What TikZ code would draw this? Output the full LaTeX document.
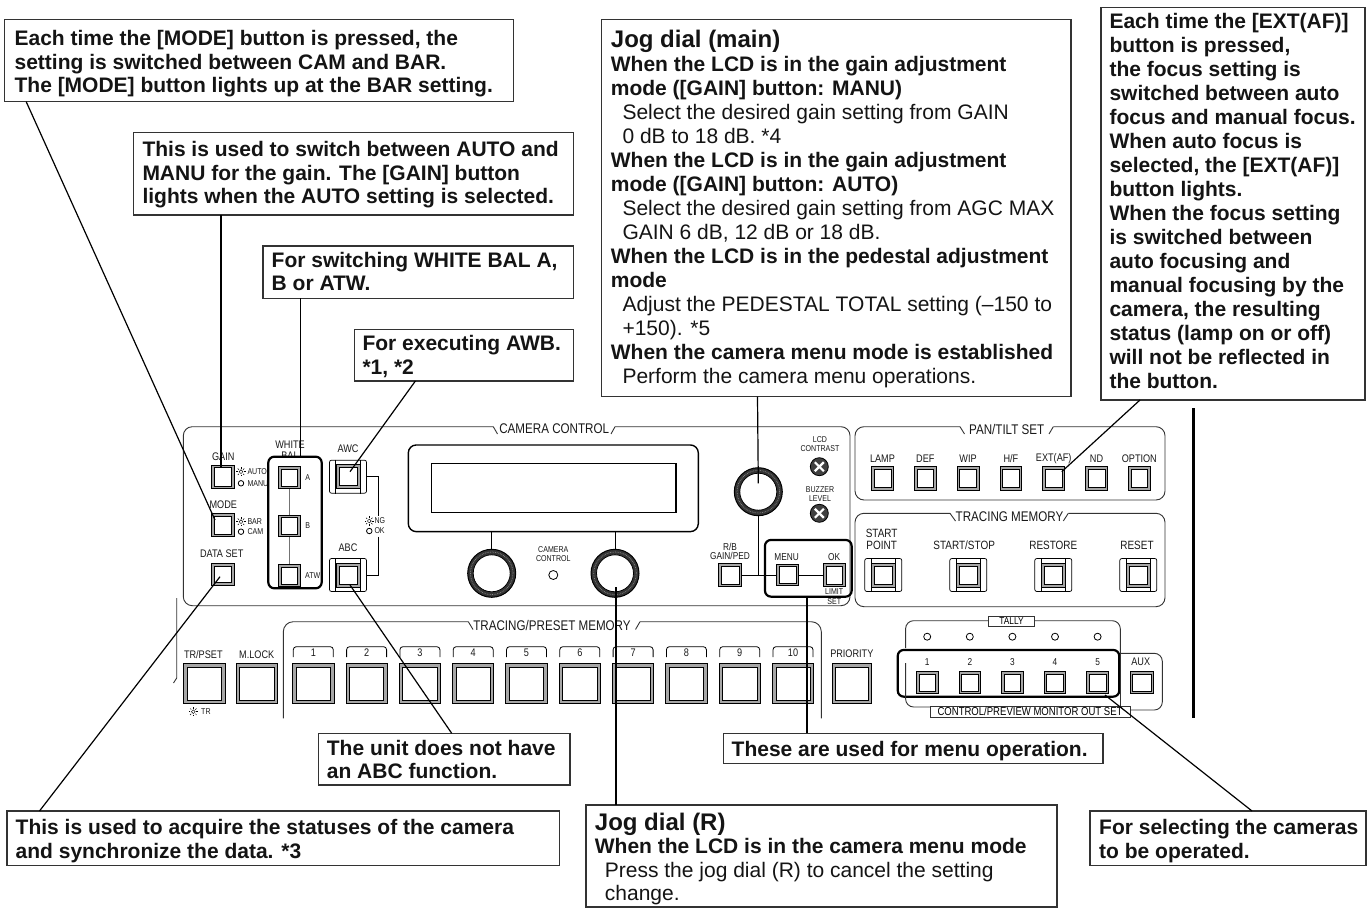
\documentclass[tikz,border=0pt]{standalone}
\usepackage{fontspec}
\setmainfont{Liberation Sans}
\newfontfamily\panelf[FakeStretch=0.83]{Liberation Sans}
\newcommand\mystrut{\rule{0pt}{16pt}}
\newcommand\tstrut{\rule{0pt}{18pt}}
\tikzset{
  cbox/.style={draw=black!80, line width=1.3pt},
  ctext/.style={anchor=north west, inner sep=0pt, align=left, text=black!92,
     font={\fontsize{21}{23.5}\selectfont\bfseries}},
  leader/.style={draw=black, line width=1.2pt},
  panel/.style={draw=black!80, line width=0.9pt},
  grp/.style={draw=black, line width=2.2pt, rounded corners=6pt, inner sep=0pt},
  btnout/.style={draw=black, line width=0.9pt, fill=black!35, rectangle, inner sep=0pt},
  btnin/.style={draw=black, line width=0.6pt, fill=white, rectangle, inner sep=0pt},
  frm/.style={draw=black, line width=0.7pt, fill=white, rectangle, rounded corners=2pt, inner sep=0pt},
  lbl/.style={inner sep=0pt, text=black!90, font={\panelf\fontsize{11}{11}\selectfont}},
  mlbl/.style={inner sep=0pt, text=black!90, font={\panelf\fontsize{10}{10}\selectfont}},
  tlbl/.style={inner sep=0pt, text=black!90, font={\panelf\fontsize{12}{12}\selectfont}},
  slbl/.style={inner sep=0pt, text=black!90, font={\panelf\fontsize{8.5}{8.5}\selectfont}},
  ttl/.style={inner sep=0pt, text=black!90, font={\panelf\fontsize{14}{14}\selectfont}},
  led/.style={draw=black, line width=0.8pt, fill=white, circle, inner sep=0pt, minimum size=7pt},
  sun/.pic={\draw[line width=0.45pt] (0,0) circle[radius=1.9];
    \foreach \a in {0,45,...,315}{\draw[line width=0.45pt] (\a:2.9) -- (\a:4.6);}},
}
% button: [inset]{name}{x}{y}{w}{h}
\newcommand\btn[6][2.5]{%
  \node[btnout, minimum width=#5pt, minimum height=#6pt] (#2) at (#3,#4) {};
  \node[btnin, minimum width={(#5-2*#1)*1pt}, minimum height={(#6-2*#1)*1pt}] (#2i) at (#3,#4) {};}
% pressed button with side bars
\newcommand\pbtn[3]{%
  \node[frm, minimum width=37pt, minimum height=33pt] (#1f) at (#2,#3) {};
  \draw[line width=0.6pt] ([xshift=6.5pt]#1f.north west) -- ([xshift=6.5pt]#1f.south west);
  \draw[line width=0.6pt] ([xshift=-6.5pt]#1f.north east) -- ([xshift=-6.5pt]#1f.south east);
  \btn[3]{#1}{#2}{#3}{24}{24}}
% dial
\newcommand\dial[3]{%
  \node[circle, fill=black!80, minimum size=48pt, inner sep=0pt] (#1) at (#2,#3) {};
  \fill[white] (#2,#3) circle[radius=18.5];
  \draw[white!55!black, line width=0.7pt, dash pattern=on 0.7pt off 1pt] (#2,#3) circle[radius=21.3];
  \draw[line width=1pt] (#2,#3) circle[radius=24];
  \draw[line width=0.8pt] (#2,#3) circle[radius=18.5];}
% knob
\newcommand\knob[3]{%
  \node[circle, fill=black!75, draw=black, line width=0.8pt, minimum size=18pt, inner sep=0pt] (#1) at (#2,#3) {};
  \draw[white, line width=2.2pt] (#2-4.5,#3-4.5) -- (#2+4.5,#3+4.5) (#2-4.5,#3+4.5) -- (#2+4.5,#3-4.5);}

\begin{document}
\begin{tikzpicture}[x=1pt,y=-1pt]
\useasboundingbox (0,0) rectangle (1371,909);
\fill[white] (0,0) rectangle (1371,909);

%================ PANEL =================
% CAMERA CONTROL panel
\draw[panel, rounded corners=9pt] (493.3,426.7) -- (183.3,426.7) -- (183.3,605.7) -- (850,605.7) -- (850,426.7) -- (615,426.7);
\draw[panel] (493.3,426.7) -- (497.5,434) (611,434) -- (615,426.7);
\node[ttl] (ttlCC) at (554.2,428.5) {CAMERA CONTROL};
\draw[panel] (176.7,598) -- (176.7,678) -- (173.5,683);

% GAIN / MODE / DATA SET
\node[lbl] (lGain) at (223.3,456.5) {GAIN};
\btn{bGain}{222.9}{476.7}{22.5}{23.3}
\pic at (241,471.7) {sun};
\node[slbl, anchor=west] (lAuto) at (247.3,471.7) {AUTO};
\node[led, minimum size=5.5pt] (ledManu) at (241,483.3) {};
\node[slbl, anchor=west] (lManu) at (247.3,483.3) {MANU};
\node[lbl] (lMode) at (223.3,505) {MODE};
\btn{bMode}{222.9}{525}{22.5}{23.3}
\pic at (241,521.7) {sun};
\node[slbl, anchor=west] (lBar) at (247.3,521.7) {BAR};
\node[led, minimum size=5.5pt] (ledCam) at (241,531.7) {};
\node[slbl, anchor=west] (lCamS) at (247.3,531.7) {CAM};
\node[lbl] (lData) at (221.7,553.3) {DATA SET};
\btn{bData}{222.9}{574.2}{22.5}{21.7}

% WHITE BAL
\node[lbl] (lWhite) at (290,444.3) {WHITE};
\node[lbl] (lBal) at (290,455.8) {BAL};
\node[grp, fill=white, minimum width=53.4pt, minimum height=131.6pt] (wbGrp) at (295,522.5) {};
\btn{wbA}{289.2}{477.5}{21.7}{21.7}
\btn{wbB}{289.2}{525.8}{21.7}{21.7}
\btn{wbC}{289.2}{575.5}{21.7}{22.3}
\draw[black!55, line width=0.9pt] (wbA.south) -- (wbB.north) (wbB.south) -- (wbC.north);
\node[slbl] (lA) at (307.7,477.5) {A};
\node[slbl] (lB) at (307.7,525.8) {B};
\begin{scope}
\clip (268,456) rectangle (320.5,590);
\node[slbl, anchor=west] (lAtw) at (305,575.5) {ATW};
\end{scope}

% AWC / ABC
\node[lbl] (lAwc) at (348,448.3) {AWC};
\pbtn{awc}{348}{476.7}
\node[lbl] (lAbc) at (348,547.7) {ABC};
\pbtn{abc}{348}{575}
\draw[line width=0.8pt] (awcf.east) -- (378.3,476.7) -- (378.3,515.5);
\draw[line width=0.8pt] (378.3,536.5) -- (378.3,575) -- (abcf.east);
\pic at (369.3,521) {sun};
\node[slbl, anchor=west] (lNg) at (374.3,521) {NG};
\node[led, minimum size=5.5pt] (ledOk) at (369.3,531) {};
\node[slbl, anchor=west] (lOkS) at (374.3,531) {OK};

% LCD and dials
\node[draw, line width=1.4pt, rounded corners=8pt, minimum width=290pt, minimum height=86.7pt, inner sep=0pt] (lcd) at (553.3,488.3) {};
\node[draw, line width=1.2pt, minimum width=244.3pt, minimum height=49pt, inner sep=0pt] (screen) at (553.8,487.8) {};
\dial{dialL}{491.7}{573.3}
\dial{dialR}{615}{573.3}
\draw[line width=0.8pt] (lcd.south -| dialL.north) -- (dialL.north);
\draw[line width=0.8pt] (lcd.south -| dialR.north) -- (dialR.north);
\node[slbl] (lCc1) at (553.3,550) {CAMERA};
\node[slbl] (lCc2) at (553.3,559) {CONTROL};
\node[led, minimum size=9pt] (ledCC) at (553.3,575) {};

% jog dial, knobs
\dial{jog}{758.3}{491.7}
\node[slbl] (lLcd1) at (820,440) {LCD};
\node[slbl] (lLcd2) at (820,449) {CONTRAST};
\knob{kLcd}{819.3}{466.7}
\node[slbl] (lBuz1) at (820,490) {BUZZER};
\node[slbl] (lBuz2) at (820,498.5) {LEVEL};
\knob{kBuz}{819.3}{513.3}

% R/B, MENU, OK
\node[grp, minimum width=86.7pt, minimum height=56.7pt] (menuGrp) at (808.3,568.3) {};
\draw[line width=0.8pt] (jog.south) -- (758.3,575);
\node[mlbl] (lRb1) at (730,547) {R/B};
\node[mlbl] (lRb2) at (730,555.5) {GAIN/PED};
\btn{bRb}{730}{575}{23.3}{23.3}
\node[mlbl] (lMenu) at (786.7,556.7) {MENU};
\btn{bMenu}{787.5}{575}{21.7}{21.7}
\node[mlbl] (lOk) at (834.2,556.7) {OK};
\btn{bOk}{834.2}{575}{21.7}{23.3}
\draw[line width=0.8pt] (bRb.east) -- (bMenu.west);
\draw[line width=0.8pt] (bMenu.east) -- (bOk.west);
\node[slbl] (lLimit) at (834.2,591.3) {LIMIT};
\node[slbl, fill=white, inner sep=0.5pt] (lSet) at (834.2,601.5) {SET};

% PAN/TILT SET
\draw[panel, rounded corners=9pt] (960,426.7) -- (855,426.7) -- (855,500) -- (1165,500) -- (1165,426.7) -- (1053.3,426.7);
\draw[panel] (960,426.7) -- (964.5,434) (1049,434) -- (1053.3,426.7);
\node[ttl] (ttlPT) at (1006.7,429) {PAN/TILT SET};
\foreach \n [count=\i from 0] in {LAMP,DEF,WIP,H/F,EXT(AF),ND,OPTION}{
  \node[lbl] (lpt\i) at (882.5+42.8*\i,458.3) {\n};
  \btn{pt\i}{882.5+42.8*\i}{478.3}{21.7}{23.3}
}

% TRACING MEMORY
\draw[panel, rounded corners=9pt] (950,513.3) -- (855,513.3) -- (855,606.7) -- (1165,606.7) -- (1165,513.3) -- (1068.3,513.3);
\draw[panel] (950,513.3) -- (955.5,521) (1063.3,521) -- (1068.3,513.3);
\node[ttl] (ttlTM) at (1009.5,517) {TRACING MEMORY};
\node[tlbl] (lSp1) at (881.7,533.3) {START};
\node[tlbl] (lSp2) at (881.7,545.5) {POINT};
\node[tlbl] (lSs) at (964.2,545.5) {START/STOP};
\node[tlbl] (lRs) at (1053.3,545.5) {RESTORE};
\node[tlbl] (lRt) at (1137,545.5) {RESET};
\pbtn{tm0}{883.3}{575}
\pbtn{tm1}{968.3}{575}
\pbtn{tm2}{1053.3}{575}
\pbtn{tm3}{1138.3}{575}

% TRACING/PRESET MEMORY
\draw[panel, rounded corners=10pt] (468.3,621.7) -- (283.3,621.7) -- (283.3,718.3);
\draw[panel, rounded corners=10pt] (640,621.7) -- (821.3,621.7) -- (821.3,718.3);
\draw[panel] (468.3,621.7) -- (473,629.5) (635.5,629.5) -- (640,621.7);
\node[ttl] (ttlTP) at (552,625.8) {TRACING/PRESET MEMORY};
\node[lbl] (lTr) at (203.3,655) {TR/PSET};
\btn[3.5]{bTr}{204.2}{683.3}{41.7}{40}
\pic at (193.3,711.7) {sun};
\node[slbl, anchor=west] (lTr2) at (201,711.7) {TR};
\node[lbl] (lMl) at (256.7,655) {M.LOCK};
\btn[3.5]{bMl}{256.7}{683.3}{41.3}{40}
\foreach \i in {1,...,10}{
  \pgfmathsetmacro\cx{313.3+53.3*(\i-1)}
  \draw[line width=0.8pt, rounded corners=3pt] (\cx-20,657) -- (\cx-20,646.7) -- (\cx+20,646.7) -- (\cx+20,657);
  \node[lbl] (ln\i) at (\cx,652.5) {\i};
  \btn[3.5]{nb\i}{\cx}{683.3}{41.3}{40}
}
\node[lbl] (lPri) at (851.8,653.3) {PRIORITY};
\btn[3.5]{bPri}{851.7}{683.3}{39.5}{40}

% TALLY / camera select
\draw[panel, rounded corners=8pt] (905.6,648) -- (905.6,620.7) -- (988.2,620.7);
\draw[panel, rounded corners=8pt] (1034.8,620.7) -- (1120.3,620.7) -- (1120.3,653.3);
\node[draw=black!80, line width=0.8pt, fill=white, minimum width=46.6pt, minimum height=10.5pt, inner sep=0pt, font={\panelf\fontsize{10}{10}\selectfont}] (lTally) at (1011.5,621.3) {TALLY};
\node[grp, minimum width=221.5pt, minimum height=46.7pt] (camGrp) at (1008.5,673.3) {};
\foreach \i in {0,...,4}{
  \pgfmathsetmacro\cx{927.2+42.6*\i}
  \pgfmathtruncatemacro\nn{\i+1}
  \node[led] (tl\i) at (\cx,636.7) {};
  \node[mlbl] (lc\i) at (\cx,661.7) {\nn};
  \btn{cb\i}{\cx}{682.5}{21.5}{21.7}
}
\draw[panel, rounded corners=8pt] (905.6,663) -- (905.6,707) -- (930,707);
\draw[panel, rounded corners=8pt] (1120.3,653.3) -- (1162.3,653.3) -- (1162.3,710) -- (1130,710);
\draw[panel] (1120.3,653.3) -- (1120.3,706);
\node[draw=black!80, line width=0.8pt, fill=white, minimum width=200pt, minimum height=11.3pt, inner sep=0pt, font={\panelf\fontsize{11.5}{11.5}\selectfont}] (lCpm) at (1030,711.7) {CONTROL/PREVIEW MONITOR OUT SET};
\node[lbl] (lAux) at (1140.7,661.7) {AUX};
\btn{bAux}{1141.7}{682.5}{23.3}{21.7}

% right vertical rule
\draw[line width=2.6pt] (1193.3,408) -- (1193.3,718);

%================ CALLOUTS =================
\draw[cbox] (4.3,19.3) rectangle (513.3,101.7);
\node[ctext] (tMode) at (14.4,29.5) {\mystrut Each time the [MODE] button is pressed, the\\setting is switched between CAM and BAR.\\The [MODE] button lights up at the BAR setting.};

\draw[cbox] (133.8,132.7) rectangle (573.8,215);
\node[ctext] (tGain) at (142.3,140.5) {\mystrut This is used to switch between AUTO and\\MANU for the gain. The [GAIN] button\\lights when the AUTO setting is selected.};

\draw[cbox] (263,246) rectangle (573.8,298.3);
\node[ctext] (tWb) at (271.5,251) {\mystrut For switching WHITE BAL A,\\B or ATW.};

\draw[cbox] (354.2,329.3) rectangle (573.8,381);
\node[ctext] (tAwb) at (362.3,334.5) {\mystrut For executing AWB.\\*1, *2};

\draw[cbox] (601.7,19.3) rectangle (1071,396.7);
\node[ctext, font={\fontsize{21}{24}\selectfont\bfseries}] (tJog) at (610.7,29.7) {%
{\fontsize{24}{24}\selectfont\tstrut Jog dial (main)}\\
When the LCD is in the gain adjustment\\
mode ([GAIN] button: MANU)\\
\hspace*{11.6pt}{\mdseries Select the desired gain setting from GAIN}\\
\hspace*{11.6pt}{\mdseries 0 dB to 18 dB. *4}\\
When the LCD is in the gain adjustment\\
mode ([GAIN] button: AUTO)\\
\hspace*{11.6pt}{\mdseries Select the desired gain setting from AGC MAX}\\
\hspace*{11.6pt}{\mdseries GAIN 6 dB, 12 dB or 18 dB.}\\
When the LCD is in the pedestal adjustment\\
mode\\
\hspace*{11.6pt}{\mdseries Adjust the PEDESTAL TOTAL setting (–150 to}\\
\hspace*{11.6pt}{\mdseries +150). *5}\\
When the camera menu mode is established\\
\hspace*{11.6pt}{\mdseries Perform the camera menu operations.}};

\draw[cbox] (1101,7.3) rectangle (1365,400);
\node[ctext, font={\fontsize{21}{24}\selectfont\bfseries}] (tExt) at (1109.3,12.3) {\mystrut Each time the [EXT(AF)]\\button is pressed,\\the focus setting is\\switched between auto\\focus and manual focus.\\When auto focus is\\selected, the [EXT(AF)]\\button lights.\\When the focus setting\\is switched between\\auto focusing and\\manual focusing by the\\camera, the resulting\\status (lamp on or off)\\will not be reflected in\\the button.};

\draw[cbox] (318.3,733.3) rectangle (570,785);
\node[ctext, font={\fontsize{21}{23}\selectfont\bfseries}] (tAbc) at (326.7,739.5) {\mystrut The unit does not have\\an ABC function.};

\draw[cbox] (723.3,733.3) rectangle (1103,763.3);
\node[ctext] (tMenu) at (731.5,740) {\mystrut These are used for menu operation.};

\draw[cbox] (7,811) rectangle (559.6,865.5);
\node[ctext] (tData) at (15.5,818.5) {\mystrut This is used to acquire the statuses of the camera\\and synchronize the data. *3};

\draw[cbox] (586,805) rectangle (1057,907);
\node[ctext, font={\fontsize{21}{23.5}\selectfont\bfseries}] (tJogR) at (594.7,812) {%
{\fontsize{24}{24}\selectfont\tstrut Jog dial (R)}\\
When the LCD is in the camera menu mode\\
\hspace*{10pt}{\mdseries Press the jog dial (R) to cancel the setting}\\
\hspace*{10pt}{\mdseries change.}};

\draw[cbox] (1090,811) rectangle (1366,865.5);
\node[ctext] (tCamSel) at (1099,818.5) {\mystrut For selecting the cameras\\to be operated.};

%================ LEADERS =================
\coordinate (mode-a) at (26.2,101.7);  \coordinate (mode-b) at (215,520);
\coordinate (gain-a) at (221,215);     \coordinate (gain-b) at (221,468);
\coordinate (wb-a) at (300.5,298.3);   \coordinate (wb-b) at (300.5,456.7);
\coordinate (awb-a) at (415.4,381);    \coordinate (awb-b) at (350,471.7);
\coordinate (jog-a) at (757.5,396.7);  \coordinate (jog-b) at (758.3,483.3);
\coordinate (ext-a) at (1140,400);     \coordinate (ext-b) at (1061.7,471.7);
\coordinate (data-a) at (39.5,811);    \coordinate (data-b) at (220,576.7);
\coordinate (abc-a) at (451.7,733.3);  \coordinate (abc-b) at (350,585);
\coordinate (jr-a) at (616,805);       \coordinate (jr-b) at (616,586.7);
\coordinate (menu-a) at (807,733.3);   \coordinate (menu-b) at (807,596.7);
\coordinate (cam-a) at (1252,811);     \coordinate (cam-b) at (1105,695);
\draw[leader] (mode-a) -- (mode-b);
\draw[leader] (gain-a) -- (gain-b);
\draw[leader] (wb-a) -- (wb-b);
\draw[leader] (awb-a) -- (awb-b);
\draw[leader] (jog-a) -- (jog-b);
\draw[leader] (ext-a) -- (ext-b);
\draw[leader] (data-a) -- (data-b);
\draw[leader] (abc-a) -- (abc-b);
\draw[leader] (jr-a) -- (jr-b);
\draw[leader] (menu-a) -- (menu-b);
\draw[leader] (cam-a) -- (cam-b);
\end{tikzpicture}
\end{document}
